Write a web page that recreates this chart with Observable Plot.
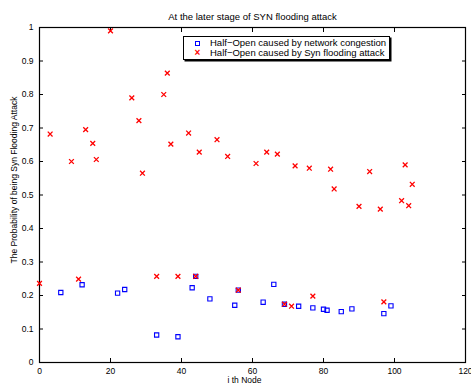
<!DOCTYPE html>
<html>
<head>
<meta charset="utf-8">
<script src="https://cdn.jsdelivr.net/npm/d3@7"></script>
<script src="https://cdn.jsdelivr.net/npm/@observablehq/plot@0.6"></script>
<style>
  html, body { margin: 0; padding: 0; background: #fff; }
  #wrap { position: relative; width: 471px; height: 386px; font-family: "Liberation Sans", Arial, Helvetica, sans-serif; }
  #legend { position: absolute; left: 183px; top: 36px; width: 205px; height: 22px; border: 1px solid #000;
            box-shadow: 1.5px 1.5px 0 #000; background: #fff; font-size: 9.5px; line-height: 10.5px; }
  #legend .row { position: absolute; left: 0; white-space: nowrap; }
  #legend .sym { position: absolute; left: 10px; width: 7px; text-align: center; }
  #legend .lab { position: absolute; left: 26px; }
  .sq { display: inline-block; box-sizing: border-box; width: 5px; height: 5px; border: 1px solid #0000ff; margin-top: 3px; }
  .xx { color: #ff0000; font-size: 10px; font-weight: bold; }
  #ylabel { position: absolute; left: 14px; top: 180px; transform: translate(-50%, -50%) rotate(-90deg);
            white-space: nowrap; font-size: 8.5px; color: #000; }
</style>
</head>
<body>
<div id="wrap"></div>
<script>
const title = "At the later stage of SYN flooding attack";
const xLabel = "i th Node";
const yLabel = "The Probability of being Syn Flooding Attack";
const seriesNames = ["Half\u2212Open caused by network congestion", "Half\u2212Open caused by Syn flooding attack"];

const congestionX = [6, 12, 22, 24, 33, 39, 43, 44, 48, 55, 56, 63, 66, 69, 73, 77, 80, 81, 85, 88, 97, 99];
const congestionY = [0.209, 0.232, 0.207, 0.218, 0.082, 0.077, 0.223, 0.257, 0.190, 0.171, 0.216, 0.180, 0.233, 0.174, 0.168, 0.163, 0.159, 0.156, 0.152, 0.160, 0.146, 0.169];

const synX = [0, 3, 9, 11, 13, 15, 16, 20, 26, 28, 29, 33, 35, 36, 37, 39, 42, 44, 45, 50, 53, 56, 61, 64, 67, 69, 71, 72, 76, 77, 82, 83, 90, 93, 96, 97, 102, 103, 104, 105];
const synY = [0.236, 0.682, 0.600, 0.249, 0.695, 0.654, 0.606, 0.990, 0.790, 0.722, 0.565, 0.257, 0.800, 0.864, 0.652, 0.257, 0.685, 0.257, 0.628, 0.665, 0.615, 0.216, 0.594, 0.628, 0.622, 0.174, 0.168, 0.587, 0.580, 0.198, 0.577, 0.518, 0.466, 0.570, 0.458, 0.181, 0.483, 0.590, 0.468, 0.532];

const xTicks = [0, 20, 40, 60, 80, 100, 120];
const yTicks = [0, 0.1, 0.2, 0.3, 0.4, 0.5, 0.6, 0.7, 0.8, 0.9, 1];
const yTickLabels = ["0", "0.1", "0.2", "0.3", "0.4", "0.5", "0.6", "0.7", "0.8", "0.9", "1"];

const congestion = congestionX.map((x, i) => ({x, y: congestionY[i]}));
const syn = synX.map((x, i) => ({x, y: synY[i]}));

const font = "'Liberation Sans', Arial, Helvetica, sans-serif";

const chart = Plot.plot({
  width: 471,
  height: 386,
  marginLeft: 39,
  marginRight: 6,
  marginTop: 27,
  marginBottom: 24,
  style: {fontFamily: font, fontSize: "8px", color: "#000", background: "#fff"},
  x: {domain: [0, 120], ticks: xTicks},
  y: {domain: [0, 1], ticks: yTicks},
  marks: [
    Plot.axisX({anchor: "bottom", ticks: xTicks, tickSize: -4, tickPadding: 9, label: null, tickFormat: d => String(d), fontSize: 8.5}),
    Plot.axisX({anchor: "top", ticks: xTicks, tickSize: -4, label: null, tickFormat: () => ""}),
    Plot.axisY({anchor: "left", ticks: yTicks, tickSize: -4, tickPadding: 10, label: null, tickFormat: (d, i) => yTickLabels[i], fontSize: 8.5}),
    Plot.axisY({anchor: "right", ticks: yTicks, tickSize: -4, label: null, tickFormat: () => ""}),
    Plot.frame({stroke: "#000", strokeWidth: 1.2}),
    Plot.dot(congestion, {x: "x", y: "y", symbol: "square", r: 2.4, stroke: "#0000ff", strokeWidth: 1.1, fill: "none"}),
    Plot.dot(syn, {x: "x", y: "y", symbol: "times", r: 2.3, stroke: "#ff0000", strokeWidth: 1.3}),
    Plot.text([title], {frameAnchor: "top", lineAnchor: "middle", dy: -11, text: d => d, fontSize: 9.5}),
    Plot.text([xLabel], {frameAnchor: "bottom", lineAnchor: "middle", dy: 18, dx: -8, text: d => d, fontSize: 8.5})
  ]
});

const wrap = document.getElementById("wrap");
wrap.appendChild(chart);

const yl = document.createElement("div");
yl.id = "ylabel";
yl.textContent = yLabel;
wrap.appendChild(yl);

const legend = document.createElement("div");
legend.id = "legend";
legend.innerHTML =
  `<div class="row" style="top:1px"><span class="sym"><span class="sq"></span></span><span class="lab">${seriesNames[0]}</span></div>` +
  `<div class="row" style="top:11px"><span class="sym xx">\u00d7</span><span class="lab">${seriesNames[1]}</span></div>`;
wrap.appendChild(legend);
</script>
</body>
</html>
